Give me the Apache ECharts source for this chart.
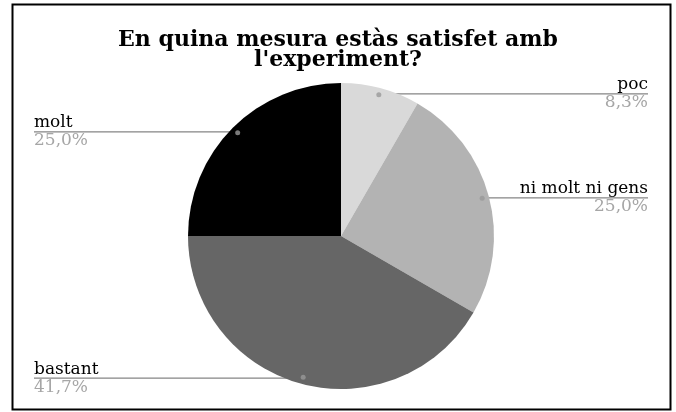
<!DOCTYPE html>
<html>
<head>
<meta charset="utf-8">
<script src="https://cdn.jsdelivr.net/npm/echarts@6/dist/echarts.min.js"></script>
<style>
html,body{margin:0;padding:0;background:#fff;}
#chart{width:676px;height:412px;}
</style>
</head>
<body>
<div id="chart"></div>
<script>
var titleText = "En quina mesura estàs satisfet amb\nl'experiment?";
var categories = ["poc", "ni molt ni gens", "bastant", "molt"];
var values = [1, 3, 5, 3];
var colors = ["#d9d9d9", "#b3b3b3", "#666666", "#000000"];

var total = values.reduce(function(a,b){return a+b;}, 0);
function pct(v){ return (v/total*100).toFixed(1).replace('.', ',') + '%'; }

var pieData = categories.map(function(c,i){ return {name:c, value:values[i], itemStyle:{color:colors[i]}}; });
var labelData = categories.map(function(c,i){ return {name:c, value:values[i]}; });
var cum = 0;
var dotData = values.map(function(v){ var mid = cum + v/2; cum += v; return [0.955, mid]; });

var CX = 341, CY = 236, R = 153;
var chart = echarts.init(document.getElementById('chart'));
chart.setOption({
  animation:false,
  backgroundColor:'#fff',
  title:{
    text:titleText, left:'center', top:25, padding:[5, 0, 5, 6],
    textStyle:{fontFamily:'DejaVu Serif', fontWeight:'bold', fontSize:22, lineHeight:20, color:'#000'}
  },
  graphic:[{type:'rect', shape:{x:12.5, y:4.5, width:658, height:405}, style:{fill:'none', stroke:'#000', lineWidth:2}, z:100}],
  polar:{center:[CX, CY], radius:R},
  angleAxis:{type:'value', min:0, max:total, startAngle:90, clockwise:true, show:false},
  radiusAxis:{type:'value', min:0, max:1, show:false},
  series:[
    {
      type:'pie', center:[CX, CY], radius:R, startAngle:90, clockwise:true,
      data:pieData, label:{show:false}, labelLine:{show:false}, silent:true
    },
    {
      type:'pie', left:12, right:6, top:0, bottom:0,
      center:['50%', CY], radius:R*0.955, startAngle:90, clockwise:true,
      data:labelData, silent:true,
      itemStyle:{color:'rgba(0,0,0,0)'},
      label:{
        show:true, alignTo:'edge', edgeDistance:22,
        formatter:function(p){ return '{n|' + p.name + '}\n{v|' + pct(p.value) + '}'; },
        rich:{
          n:{fontFamily:'DejaVu Serif', fontSize:17, lineHeight:18, color:'#000'},
          v:{fontFamily:'DejaVu Serif', fontSize:17, lineHeight:18, color:'#a6a6a6'}
        }
      },
      labelLine:{show:true, length:1, length2:10, smooth:false, lineStyle:{color:'#858585', width:1.3}},
      labelLayout:function(p){
        var pts = p.labelLinePoints; if(!pts) return {};
        var r = p.labelRect;
        var np = pts.map(function(q){return [q[0], q[1]];});
        var last = np[np.length-1];
        var isLeft = last[0] < np[0][0];
        last[0] = isLeft ? r.x : r.x + r.width;
        return {labelLinePoints: np};
      }
    },
    {
      type:'scatter', coordinateSystem:'polar', data:dotData, symbolSize:5, silent:true,
      itemStyle:{color:'#999999'}, z:5
    }
  ]
});
</script>
</body>
</html>
